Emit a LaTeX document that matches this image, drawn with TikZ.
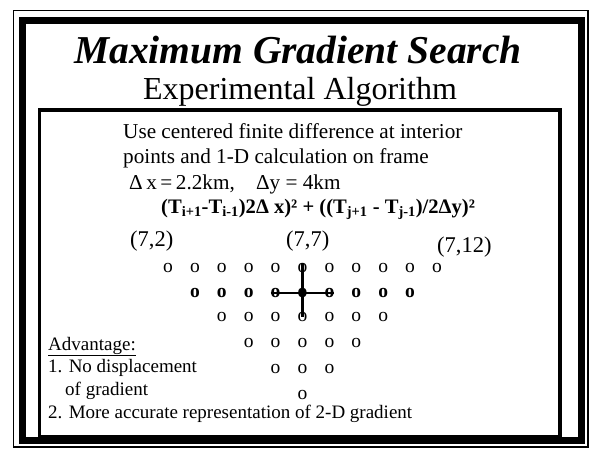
\documentclass[tikz,border=0pt]{standalone}
\usepackage{fontspec}
\setmainfont{Liberation Serif}
\begin{document}
\begin{tikzpicture}[x=1pt,y=-1pt,
  txt/.style={anchor=base west, inner sep=0pt, font=\fontsize{21.2}{23}\selectfont},
  advtxt/.style={anchor=base west, inner sep=0pt, font=\fontsize{19}{23}\selectfont},
  dot/.style={inner sep=0pt, font=\fontsize{19.5}{19}\selectfont},
  bdot/.style={inner sep=0pt, font=\fontsize{19.5}{19}\selectfont\bfseries},
  crossline/.style={line width=2.6pt}]
\useasboundingbox[fill=white] (0,0) rectangle (590,448);
% frames
\draw[line width=1.4pt] (13.5,10.5) rectangle (588,447);
\draw[line width=7pt] (22.5,20) rectangle (581,440);
\draw[line width=3.5pt] (39.5,110) rectangle (560,437);
% titles
\node[anchor=base, inner sep=0pt, font=\fontsize{39.5}{39}\selectfont\bfseries\itshape] (title) at (298,63) {Maximum Gradient Search};
\node[anchor=base, inner sep=0pt, font=\fontsize{32}{32}\selectfont] (subtitle) at (300,99) {Experimental Algorithm};
% body text
\node[txt] (l1) at (123,138) {Use centered finite difference at interior};
\node[txt] (l2) at (123,163) {points and 1-D calculation on frame};
\node[txt] (l3) at (129,189) {Δ\,x\,=\,2.2km,\hspace{1em}Δy = 4km};
\node[txt, font=\fontsize{20.6}{23}\selectfont\bfseries] (l4) at (161,213)
  {(T\textsubscript{i+1}-T\textsubscript{i-1})2Δ x)² + ((T\textsubscript{j+1} - T\textsubscript{j-1})/2Δy)²};
\node[txt, font=\fontsize{22.5}{23}\selectfont] (c72) at (130,246) {(7,2)};
\node[txt, font=\fontsize{22.5}{23}\selectfont] (c77) at (286,246) {(7,7)};
\node[txt, font=\fontsize{22.5}{23}\selectfont] (c712) at (437,252) {(7,12)};
% grid of points
\foreach \k in {0,...,10} \node[dot] (r1-\k) at ({168+26.9*\k},268) {o};
\foreach \k in {1,...,9} \node[bdot] (r2-\k) at ({168+26.9*\k},293) {o};
\foreach \k in {2,...,8} \node[dot] (r3-\k) at ({168+26.9*\k},317) {o};
\foreach \k in {3,...,7} \node[dot] (r4-\k) at ({168+26.9*\k},343) {o};
\foreach \k in {4,...,6} \node[dot] (r5-\k) at ({168+26.9*\k},369) {o};
\node[dot] (r6-5) at ({168+26.9*5},395) {o};
% cross
\draw[crossline] (r1-5.north) -- (r3-5.center);
\draw[crossline] (r2-4.west) -- (r2-6.east);
% advantages
\node[advtxt] (adv) at (48,350) {\underline{Advantage:}};
\node[advtxt] (a1) at (48,372) {1. No displacement};
\node[advtxt] (a1b) at (65,395) {of gradient};
\node[advtxt] (a2) at (48,418) {2. More accurate representation of 2-D gradient};
\end{tikzpicture}
\end{document}
